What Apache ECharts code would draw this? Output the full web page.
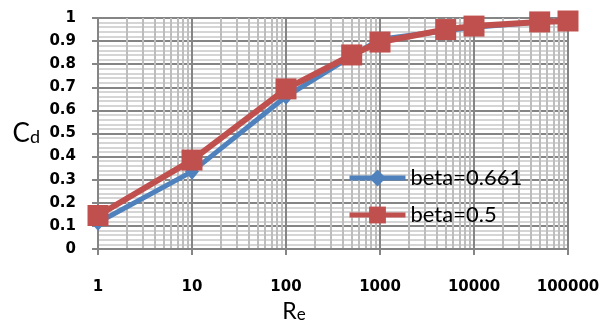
<!DOCTYPE html>
<html>
<head>
<meta charset="utf-8">
<script src="https://cdn.jsdelivr.net/npm/echarts@6/dist/echarts.min.js"></script>
<style>html,body{margin:0;padding:0;background:#fff}#c{width:616px;height:323px}</style>
</head>
<body>
<div id="c"></div>
<script>
const reValues = [1, 10, 100, 500, 1000, 5000, 10000, 50000, 100000];
const beta0661 = [0.115, 0.335, 0.66, 0.835, 0.908, 0.945, 0.96, 0.983, 0.99];
const beta05 = [0.145, 0.385, 0.693, 0.84, 0.896, 0.95, 0.965, 0.983, 0.987];
const seriesNames = ['beta=0.661', 'beta=0.5'];
const xTickLabels = ['1', '10', '100', '1000', '10000', '100000'];

const minorX = [];
for (let d = 1; d < 100000; d *= 10) for (let k = 2; k <= 9; k++) minorX.push({ xAxis: k * d });

const chart = echarts.init(document.getElementById('c'), null, { renderer: 'canvas' });
const major = '#858585';
chart.setOption({
  animation: false,
  backgroundColor: '#fff',
  grid: { left: 98, right: 48, top: 18, bottom: 74, containLabel: false, outerBoundsMode: 'none' },
  legend: {
    orient: 'vertical', left: 342, top: 162, itemGap: 15,
    itemWidth: 56, itemHeight: 21,
    lineStyle: { type: 'solid', width: 5 },
    textStyle: { fontFamily: 'Lato', fontSize: 22, color: '#000' },
    data: seriesNames
  },
  xAxis: {
    type: 'log', logBase: 10, min: 1, max: 100000,
    name: '{r|R}{s|e}', nameLocation: 'middle', nameGap: 44,
    nameTextStyle: { padding: [0, 78, 0, 0], rich: {
      r: { fontFamily: 'Lato', fontSize: 23, color: '#000', verticalAlign: 'bottom' },
      s: { fontFamily: 'Lato', fontSize: 17, color: '#000', padding: [12, 0, 0, 0], verticalAlign: 'bottom' } } },
    axisLine: { lineStyle: { color: major, width: 2 } },
    axisTick: { show: true, length: 6, lineStyle: { color: major, width: 2 } },
    axisLabel: { margin: 31, fontFamily: 'DejaVu Sans', fontWeight: 'bold', fontSize: 15, color: '#000',
      formatter: v => xTickLabels[Math.round(Math.log10(v))] },
    splitLine: { show: true, lineStyle: { color: major, width: 2 } },
    minorTick: { show: false }, minorSplitLine: { show: false }
  },
  yAxis: {
    type: 'value', min: 0, max: 1, interval: 0.1,
    name: '{c|C}{d|d}', nameLocation: 'middle', nameGap: 58, nameRotate: 0,
    nameTextStyle: { rich: {
      c: { fontFamily: 'Lato', fontSize: 26, color: '#000', verticalAlign: 'bottom' },
      d: { fontFamily: 'Lato', fontSize: 18, color: '#000', verticalAlign: 'bottom' } } },
    axisLine: { show: true, lineStyle: { color: major, width: 2 } },
    axisTick: { show: true, length: 6, lineStyle: { color: major, width: 2 } },
    axisLabel: { margin: 22, fontFamily: 'DejaVu Sans', fontWeight: 'bold', fontSize: 15, color: '#000',
      formatter: v => String(Math.round(v * 10) / 10) },
    splitLine: { show: true, lineStyle: { color: major, width: 2 } },
    minorTick: { show: false, splitNumber: 5 },
    minorSplitLine: { show: true, lineStyle: { color: '#c8c8c8', width: 1.5 } }
  },
  series: [
    {
      type: 'line', name: '__grid', data: [], z: 0, silent: true,
      markLine: { z: 0, silent: true, symbol: 'none', label: { show: false },
        lineStyle: { color: '#bdbdbd', width: 2, type: 'solid' }, data: minorX }
    },
    {
      type: 'line', name: seriesNames[0], z: 3,
      data: reValues.map((x, i) => [x, beta0661[i]]),
      symbol: 'diamond', symbolSize: [14, 17],
      lineStyle: { color: '#4f81bd', width: 5 },
      itemStyle: { color: '#4f81bd' }
    },
    {
      type: 'line', name: seriesNames[1], z: 4,
      data: reValues.map((x, i) => [x, beta05[i]]),
      symbol: 'rect', symbolSize: 21,
      lineStyle: { color: '#c0504d', width: 6 },
      itemStyle: { color: '#c0504d' }
    }
  ]
});
</script>
</body>
</html>
